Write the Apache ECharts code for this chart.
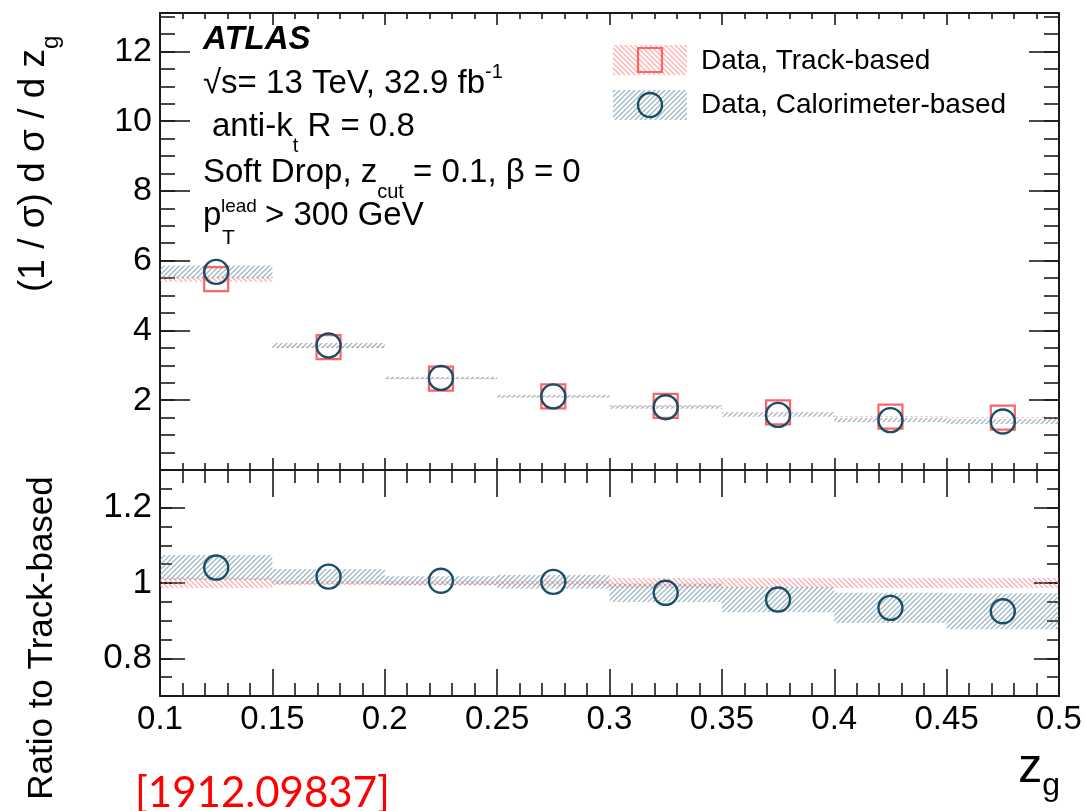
<!DOCTYPE html>
<html>
<head>
<meta charset="utf-8">
<script src="https://cdn.jsdelivr.net/npm/echarts@6/dist/echarts.min.js"></script>
<style>
  html, body { margin: 0; padding: 0; background: #ffffff; }
  #chart { width: 1085px; height: 811px; }
</style>
</head>
<body>
<div id="chart"></div>
<script>
// Soft-drop groomed momentum fraction z_g: bin edges
const binEdges = [0.1, 0.15, 0.2, 0.25, 0.3, 0.35, 0.4, 0.45, 0.5];
// (1/sigma) dsigma/dz_g, track-based and calorimeter-based measurements
const trackValues = [5.47, 3.52, 2.62, 2.11, 1.84, 1.65, 1.53, 1.50];
const caloValues  = [5.68, 3.57, 2.64, 2.11, 1.80, 1.58, 1.43, 1.39];
// calorimeter-based / track-based
const ratioValues = [1.041, 1.017, 1.006, 1.003, 0.974, 0.956, 0.934, 0.925];
// relative total uncertainties (half widths of the hatched bands)
const trackRelUnc = [0.013, 0.006, 0.006, 0.006, 0.013, 0.013, 0.013, 0.013];
const caloRelUnc  = [0.032, 0.020, 0.012, 0.018, 0.025, 0.035, 0.043, 0.052];
// tick labels
const xTickLabels = [0.1, 0.15, 0.2, 0.25, 0.3, 0.35, 0.4, 0.45, 0.5];
const mainTickLabels = [2, 4, 6, 8, 10, 12];
const ratioTickLabels = [0.8, 1, 1.2];

const FONT = '"Liberation Sans", Arial, Helvetica, sans-serif';
const RED = '#ff6464';
const RED_HATCH = 'rgba(255,110,110,0.55)';
const BLUE = '#1b4d68';
const BLUE_HATCH = 'rgba(80,125,150,0.55)';
const INK = '#1a1a1a';

function hatch(color, rising) {
  const s = 5;
  const c = document.createElement('canvas');
  c.width = s; c.height = s;
  const g = c.getContext('2d');
  g.strokeStyle = color;
  g.lineWidth = 1.3;
  g.beginPath();
  if (rising) {
    g.moveTo(0, s); g.lineTo(s, 0);
    g.moveTo(-1, 1); g.lineTo(1, -1);
    g.moveTo(s - 1, s + 1); g.lineTo(s + 1, s - 1);
  } else {
    g.moveTo(0, 0); g.lineTo(s, s);
    g.moveTo(-1, s - 1); g.lineTo(1, s + 1);
    g.moveTo(s - 1, -1); g.lineTo(s + 1, 1);
  }
  g.stroke();
  return { image: c, repeat: 'repeat' };
}
const redPattern = hatch(RED_HATCH, false);
const bluePattern = hatch(BLUE_HATCH, true);

const centers = trackValues.map((_, i) => (binEdges[i] + binEdges[i + 1]) / 2);
function bandRows(values, rel) {
  return values.map((v, i) => [binEdges[i], binEdges[i + 1], v * (1 - rel[i]), v * (1 + rel[i])]);
}
const trackBand = bandRows(trackValues, trackRelUnc);
const caloBand = bandRows(caloValues, caloRelUnc);
const trackRatioBand = bandRows(trackValues.map(() => 1), trackRelUnc);
const caloRatioBand = bandRows(ratioValues, caloRelUnc);

function bandRenderer(pattern) {
  return function (params, api) {
    const p0 = api.coord([api.value(0), api.value(3)]);
    const p1 = api.coord([api.value(1), api.value(2)]);
    return {
      type: 'rect',
      shape: { x: p0[0], y: p0[1], width: p1[0] - p0[0], height: p1[1] - p0[1] },
      style: { fill: pattern }
    };
  };
}

const axisLineStyle = { show: true, onZero: false, lineStyle: { color: INK, width: 2 } };
const tickStyle = { color: INK, width: 1.6 };

function xAxisDef(grid, position, majorLen, minorLen, labels) {
  return {
    type: 'value', gridIndex: grid, position: position,
    min: 0.1, max: 0.5, interval: 0.05,
    axisLine: axisLineStyle,
    axisTick: { show: true, inside: true, length: majorLen, lineStyle: tickStyle },
    minorTick: { show: true, splitNumber: 5, length: minorLen, lineStyle: tickStyle },
    splitLine: { show: false },
    axisLabel: labels ? {
      show: true, customValues: xTickLabels, margin: 7,
      fontFamily: FONT, fontSize: 33, color: '#000'
    } : { show: false }
  };
}
function yMajor(grid, position, min, max, ticks, len, labels, fontSize) {
  return {
    type: 'value', gridIndex: grid, position: position, min: min, max: max,
    axisLine: axisLineStyle,
    axisTick: { show: true, inside: true, length: len, customValues: ticks, lineStyle: tickStyle },
    splitLine: { show: false },
    axisLabel: labels ? {
      show: true, customValues: ticks, margin: 8,
      fontFamily: FONT, fontSize: fontSize, color: '#000'
    } : { show: false }
  };
}
function yMinor(grid, position, min, max, step, len) {
  return {
    type: 'value', gridIndex: grid, position: position, min: min, max: max, interval: step,
    axisLine: { show: false, onZero: false },
    axisTick: { show: true, inside: true, length: len, lineStyle: tickStyle },
    splitLine: { show: false },
    axisLabel: { show: false }
  };
}

const chart = echarts.init(document.getElementById('chart'), null, { renderer: 'canvas' });

const option = {
  animation: false,
  backgroundColor: '#ffffff',
  grid: [
    { left: 160, top: 13, width: 899, height: 457, outerBoundsMode: 'none', containLabel: false },
    { left: 160, top: 470, width: 899, height: 226, outerBoundsMode: 'none', containLabel: false }
  ],
  xAxis: [
    xAxisDef(0, 'bottom', 12, 7, false),
    xAxisDef(0, 'top', 12, 6, false),
    xAxisDef(1, 'bottom', 27, 13, true),
    xAxisDef(1, 'top', 27, 13, false)
  ],
  yAxis: [
    yMajor(0, 'left', 0, 13.1, mainTickLabels, 30, true, 34),
    yMinor(0, 'left', 0, 13.1, 0.5, 15),
    yMajor(0, 'right', 0, 13.1, mainTickLabels, 30, false, 34),
    yMinor(0, 'right', 0, 13.1, 0.5, 15),
    yMajor(1, 'left', 0.7, 1.3, ratioTickLabels, 25, true, 35),
    yMinor(1, 'left', 0.7, 1.3, 0.05, 12),
    yMajor(1, 'right', 0.7, 1.3, ratioTickLabels, 25, false, 35),
    yMinor(1, 'right', 0.7, 1.3, 0.05, 12)
  ],
  series: [
    {
      type: 'custom', name: 'track band', xAxisIndex: 0, yAxisIndex: 0,
      renderItem: bandRenderer(redPattern), data: trackBand,
      encode: { x: [0, 1], y: [2, 3] }, clip: true, z: 1
    },
    {
      type: 'custom', name: 'calo band', xAxisIndex: 0, yAxisIndex: 0,
      renderItem: bandRenderer(bluePattern), data: caloBand,
      encode: { x: [0, 1], y: [2, 3] }, clip: true, z: 1
    },
    {
      type: 'scatter', name: 'Data, Track-based', xAxisIndex: 0, yAxisIndex: 0,
      symbol: 'rect', symbolSize: 24,
      itemStyle: { color: 'rgba(0,0,0,0)', borderColor: RED, borderWidth: 2.2, opacity: 1 },
      data: centers.map((c, i) => [c, trackValues[i]]), z: 3
    },
    {
      type: 'scatter', name: 'Data, Calorimeter-based', xAxisIndex: 0, yAxisIndex: 0,
      symbol: 'circle', symbolSize: 24,
      itemStyle: { color: 'rgba(0,0,0,0)', borderColor: BLUE, borderWidth: 2.4, opacity: 1 },
      data: centers.map((c, i) => [c, caloValues[i]]), z: 4
    },
    {
      type: 'custom', name: 'track ratio band', xAxisIndex: 2, yAxisIndex: 4,
      renderItem: bandRenderer(redPattern), data: trackRatioBand,
      encode: { x: [0, 1], y: [2, 3] }, clip: true, z: 1
    },
    {
      type: 'custom', name: 'calo ratio band', xAxisIndex: 2, yAxisIndex: 4,
      renderItem: bandRenderer(bluePattern), data: caloRatioBand,
      encode: { x: [0, 1], y: [2, 3] }, clip: true, z: 1
    },
    {
      type: 'scatter', name: 'ratio', xAxisIndex: 2, yAxisIndex: 4,
      symbol: 'circle', symbolSize: 24,
      itemStyle: { color: 'rgba(0,0,0,0)', borderColor: BLUE, borderWidth: 2.4, opacity: 1 },
      data: centers.map((c, i) => [c, ratioValues[i]]), z: 4
    }
  ],
  graphic: [
    // axis titles
    {
      type: 'text', x: 34, y: 292, rotation: Math.PI / 2,
      style: {
        text: '{m|(1 / σ) d σ / d z}{s|g}',
        align: 'left', verticalAlign: 'middle', textAlign: 'left', textVerticalAlign: 'middle',
        rich: {
          m: { fontFamily: FONT, fontSize: 37, lineHeight: 58, fill: '#000', color: '#000' },
          s: { fontFamily: FONT, fontSize: 24, lineHeight: 24, verticalAlign: 'bottom', fill: '#000', color: '#000' }
        }
      }
    },
    {
      type: 'text', x: 42, y: 638, rotation: Math.PI / 2,
      style: {
        text: 'Ratio to Track-based', font: '35px ' + FONT, fill: '#000',
        align: 'center', verticalAlign: 'middle', textAlign: 'center', textVerticalAlign: 'middle'
      }
    },
    {
      type: 'text', x: 1060, y: 769,
      style: {
        text: '{m|z}{s|g}',
        align: 'right', verticalAlign: 'middle', textAlign: 'right', textVerticalAlign: 'middle',
        rich: {
          m: { fontFamily: FONT, fontSize: 48, lineHeight: 66, fill: '#000', color: '#000' },
          s: { fontFamily: FONT, fontSize: 32, lineHeight: 32, verticalAlign: 'bottom', fill: '#000', color: '#000' }
        }
      }
    },
    // ATLAS label block
    {
      type: 'text', x: 203, y: 40,
      style: { text: 'ATLAS', font: 'italic bold 33px ' + FONT, fill: '#000', verticalAlign: 'middle', textVerticalAlign: 'middle' }
    },
    {
      type: 'text', x: 203, y: 84,
      style: {
        text: '{m|√s= 13 TeV, 32.9 fb}{p|-1}',
        verticalAlign: 'middle', textVerticalAlign: 'middle',
        rich: {
          m: { fontFamily: FONT, fontSize: 33, lineHeight: 44, fill: '#000', color: '#000' },
          p: { fontFamily: FONT, fontSize: 20, lineHeight: 20, verticalAlign: 'top', fill: '#000', color: '#000' }
        }
      }
    },
    {
      type: 'text', x: 212, y: 127,
      style: {
        text: '{m|anti-k}{s|t}{m| R = 0.8}',
        verticalAlign: 'middle', textVerticalAlign: 'middle',
        rich: {
          m: { fontFamily: FONT, fontSize: 33, lineHeight: 58, fill: '#000', color: '#000' },
          s: { fontFamily: FONT, fontSize: 20, lineHeight: 20, verticalAlign: 'bottom', fill: '#000', color: '#000' }
        }
      }
    },
    {
      type: 'text', x: 203, y: 173,
      style: {
        text: '{m|Soft Drop, z}{s|cut}{m| = 0.1, β = 0}',
        verticalAlign: 'middle', textVerticalAlign: 'middle',
        rich: {
          m: { fontFamily: FONT, fontSize: 33, lineHeight: 58, fill: '#000', color: '#000' },
          s: { fontFamily: FONT, fontSize: 20, lineHeight: 20, verticalAlign: 'bottom', fill: '#000', color: '#000' }
        }
      }
    },
    { type: 'text', x: 203, y: 216, style: { text: 'p', font: '33px ' + FONT, fill: '#000', verticalAlign: 'middle', textVerticalAlign: 'middle' } },
    { type: 'text', x: 221, y: 207, style: { text: 'lead', font: '19px ' + FONT, fill: '#000', verticalAlign: 'middle', textVerticalAlign: 'middle' } },
    { type: 'text', x: 222, y: 238, style: { text: 'T', font: '21px ' + FONT, fill: '#000', verticalAlign: 'middle', textVerticalAlign: 'middle' } },
    { type: 'text', x: 265, y: 216, style: { text: '> 300 GeV', font: '33px ' + FONT, fill: '#000', verticalAlign: 'middle', textVerticalAlign: 'middle' } },
    // legend
    { type: 'rect', shape: { x: 613, y: 45, width: 74, height: 30 }, style: { fill: redPattern } },
    { type: 'rect', shape: { x: 638, y: 48, width: 24, height: 24 }, style: { fill: 'none', stroke: RED, lineWidth: 2.2 } },
    { type: 'text', x: 701, y: 61, style: { text: 'Data, Track-based', font: '28px ' + FONT, fill: '#000', verticalAlign: 'middle', textVerticalAlign: 'middle' } },
    { type: 'rect', shape: { x: 613, y: 90, width: 74, height: 30 }, style: { fill: bluePattern } },
    { type: 'circle', shape: { cx: 650, cy: 105, r: 12 }, style: { fill: 'none', stroke: BLUE, lineWidth: 2.4 } },
    { type: 'text', x: 701, y: 105, style: { text: 'Data, Calorimeter-based', font: '28px ' + FONT, fill: '#000', verticalAlign: 'middle', textVerticalAlign: 'middle' } },
    // arXiv reference
    { type: 'text', x: 135, y: 793, style: { text: '[1912.09837]', font: '42px Lato, "Open Sans", sans-serif', fill: '#ff0000', verticalAlign: 'middle', textVerticalAlign: 'middle' } }
  ]
};

chart.setOption(option);
</script>
</body>
</html>
